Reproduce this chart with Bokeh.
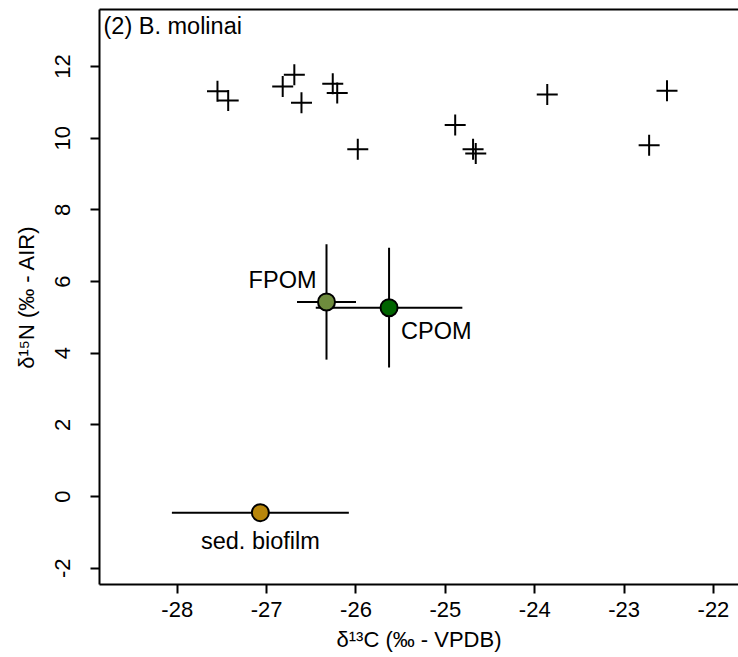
from bokeh.plotting import figure
from bokeh.models import ColumnDataSource, FixedTicker, LinearAxis, Label, Range1d
from bokeh.embed import file_html
from bokeh.resources import INLINE

# consumer data (crosses)
cons_d13c = [-27.55, -27.43, -26.82, -26.69, -26.61, -26.26, -26.21, -25.98,
             -24.89, -24.69, -24.66, -23.86, -22.52, -22.72]
cons_d15n = [11.31, 11.05, 11.44, 11.77, 10.99, 11.52, 11.26, 9.69,
             10.37, 9.69, 9.57, 11.22, 11.32, 9.80]

# sources (mean +/- sd)
src_names = ["FPOM", "CPOM", "sed. biofilm"]
src_d13c = [-26.33, -25.63, -27.07]
src_d13c_lo = [-26.66, -26.45, -28.06]
src_d13c_hi = [-26.00, -24.81, -26.08]
src_d15n = [5.43, 5.27, -0.45]
src_d15n_lo = [3.82, 3.60, -0.45]
src_d15n_hi = [7.04, 6.94, -0.45]
src_colors = ["#6E8B3D", "#006400", "#B8860B"]

x_ticks = [-28, -27, -26, -25, -24, -23, -22]
x_tick_labels = ["-28", "-27", "-26", "-25", "-24", "-23", "-22"]
y_ticks = [-2, 0, 2, 4, 6, 8, 10, 12]
y_tick_labels = ["-2", "0", "2", "4", "6", "8", "10", "12"]
panel_title = "(2) B. molinai"
x_label = "δ¹³C (‰ - VPDB)"
y_label = "δ¹⁵N (‰ - AIR)"

FONT = "Liberation Sans"

p = figure(width=738, height=657, output_backend="svg", toolbar_location=None,
           x_range=Range1d(-28.87, -21.72), y_range=Range1d(-2.455, 13.59),
           x_axis_location=None, y_axis_location=None,
           min_border_left=99, min_border_right=0, min_border_top=9,
           min_border_bottom=73)
p.outline_line_color = None
p.xgrid.visible = False
p.ygrid.visible = False
p.background_fill_color = "white"
p.border_fill_color = "white"

def style_axis(ax, ticks, labels):
    ax.ticker = FixedTicker(ticks=ticks)
    ax.major_label_overrides = {t: s for t, s in zip(ticks, labels)}
    ax.minor_tick_line_color = None
    ax.axis_line_width = 2
    ax.axis_line_color = "black"
    ax.major_tick_line_width = 2
    ax.major_tick_line_color = "black"
    ax.major_tick_in = 0
    ax.major_tick_out = 9
    ax.major_label_text_font = FONT
    ax.major_label_text_font_size = "22px"
    ax.major_label_text_color = "black"
    ax.axis_label_text_font = FONT
    ax.axis_label_text_font_size = "22px"
    ax.axis_label_text_font_style = "normal"
    ax.axis_label_text_color = "black"

xaxis = LinearAxis(axis_label=x_label)
style_axis(xaxis, x_ticks, x_tick_labels)
xaxis.major_label_standoff = 8
xaxis.axis_label_standoff = 7
p.add_layout(xaxis, "below")

yaxis = LinearAxis(axis_label=y_label)
style_axis(yaxis, y_ticks, y_tick_labels)
yaxis.major_label_orientation = "vertical"
yaxis.major_label_standoff = 20
yaxis.axis_label_standoff = 14
p.add_layout(yaxis, "left")

top = LinearAxis()
top.ticker = FixedTicker(ticks=[])
top.axis_line_width = 2
top.major_tick_line_color = None
top.minor_tick_line_color = None
top.major_label_text_font_size = "0px"
top.major_label_standoff = 0
top.major_tick_out = 0
p.add_layout(top, "above")

cons = ColumnDataSource(dict(x=cons_d13c, y=cons_d15n))
p.scatter("x", "y", source=cons, marker="cross", size=21, line_width=2,
          line_color="black")

src = ColumnDataSource(dict(x=src_d13c, y=src_d15n, xlo=src_d13c_lo, xhi=src_d13c_hi,
                            ylo=src_d15n_lo, yhi=src_d15n_hi, color=src_colors,
                            name=src_names))
p.segment(x0="xlo", y0="y", x1="xhi", y1="y", source=src, line_width=2, line_color="black")
p.segment(x0="x", y0="ylo", x1="x", y1="yhi", source=src, line_width=2, line_color="black")
p.scatter("x", "y", source=src, size=17, fill_color="color", line_color="black",
          line_width=2)

# labels
lab_x_off = [-10, 12, 0]
lab_y_off = [-22, 23, 28]
lab_align = ["right", "left", "center"]
for i in range(3):
    p.add_layout(Label(x=src_d13c[i], y=src_d15n[i], text=src_names[i],
                       x_offset=lab_x_off[i], y_offset=-lab_y_off[i],
                       text_align=lab_align[i], text_baseline="middle",
                       text_font=FONT, text_font_size="23.5px", text_color="black"))

p.add_layout(Label(x=-28.87, y=13.59, text=panel_title, x_offset=4, y_offset=-16,
                   text_align="left", text_baseline="middle", text_font=FONT,
                   text_font_size="23.5px", text_color="black"))

open("out.html", "w").write(file_html(p, INLINE))
